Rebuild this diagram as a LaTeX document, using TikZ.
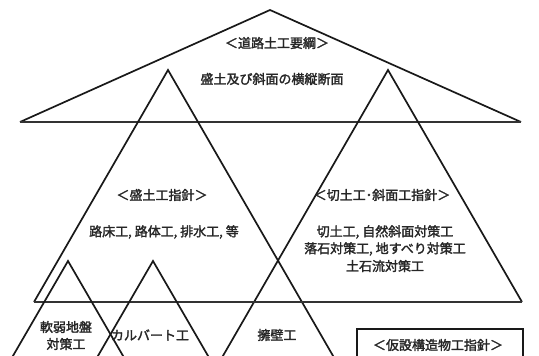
\documentclass[tikz,border=0pt]{standalone}
\usepackage{fontspec}
\setmainfont{Noto Sans CJK JP}[FakeBold=2]
\tikzset{
  edge/.style={line width=1.7pt, line join=miter, black!90},
  baseedge/.style={line width=2pt, black!80},
  lbl/.style={inner sep=0pt, font=\fontsize{13}{16}\selectfont, text=black!85, align=center},
}
\begin{document}
\begin{tikzpicture}[x=1pt,y=-1pt]
\useasboundingbox (0,0) rectangle (539,356);
\fill[white] (0,0) rectangle (539,356);
% big triangle
\coordinate (bL) at (20,122);
\coordinate (bT) at (270,10);
\coordinate (bR) at (521,122);
\draw[edge] (bL) -- (bT) -- (bR);
\draw[baseedge] (bL) -- (bR);
% middle triangles
\coordinate (mLa) at (168,70);
\coordinate (mLl) at (34,302);
\coordinate (mLe) at (336,361);
\coordinate (mRa) at (388,70);
\coordinate (mRr) at (522,302);
\coordinate (mRe) at (220,361);
\draw[edge] (mLl) -- (mLa) -- (mLe);
\draw[edge] (mRr) -- (mRa) -- (mRe);
\draw[baseedge] (mLl) -- (mRr);
% bottom triangles
\coordinate (sAa) at (68,261);
\coordinate (sAl) at (10,361);
\coordinate (sAr) at (126,361);
\coordinate (sBa) at (153,261);
\coordinate (sBl) at (95,361);
\coordinate (sBr) at (211,361);
\draw[edge] (sAl) -- (sAa) -- (sAr);
\draw[edge] (sBl) -- (sBa) -- (sBr);
% box
\coordinate (bxA) at (357,362);
\coordinate (bxB) at (357,329);
\coordinate (bxC) at (523,329);
\coordinate (bxD) at (523,362);
\draw[edge] (bxA) -- (bxB) -- (bxC) -- (bxD);
% texts
\node[lbl] (t1) at (277,43) {＜道路土工要綱＞};
\node[lbl] (t2) at (272,79) {盛土及び斜面の横縦断面};
\node[lbl] (t3) at (162,195) {＜盛土工指針＞};
\node[lbl] (t4) at (164,232) {路床工, 路体工, 排水工, 等};
\node[lbl] (t5) at (382,195) {＜切土工･斜面工指針＞};
\node[lbl] (t6) at (385,232) {切土工, 自然斜面対策工};
\node[lbl] (t7) at (385,249) {落石対策工, 地すべり対策工};
\node[lbl] (t8) at (385,266) {土石流対策工};
\node[lbl] (t9) at (66,327) {軟弱地盤};
\node[lbl] (t10) at (66,344) {対策工};
\node[lbl] (t11) at (150,335) {カルバート工};
\node[lbl] (t12) at (277,335) {擁壁工};
\node[lbl] (t13) at (438,345) {＜仮設構造物工指針＞};
\end{tikzpicture}
\end{document}
